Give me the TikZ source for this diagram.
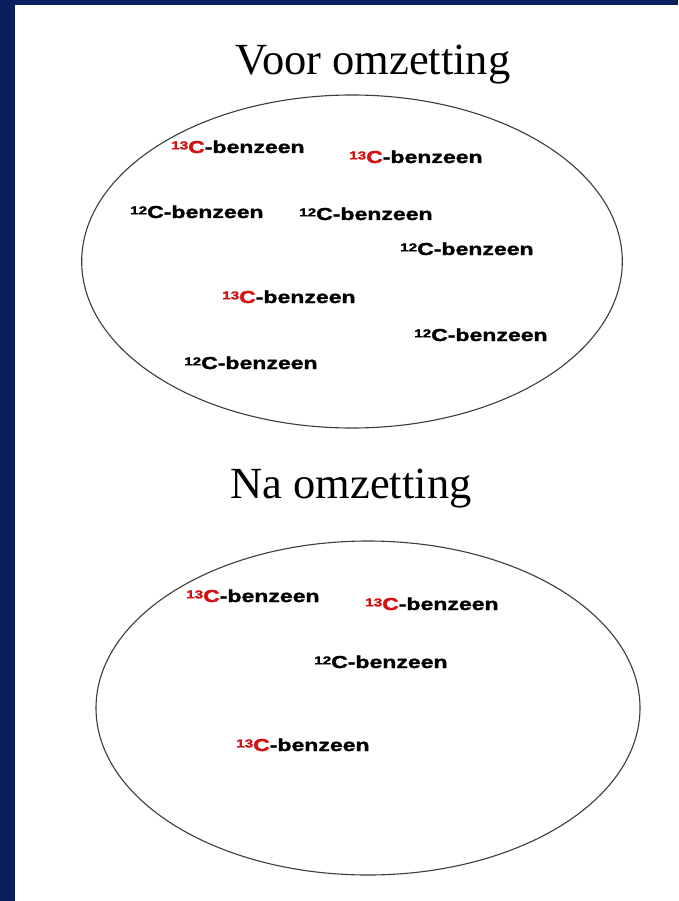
\documentclass[tikz,border=0pt]{standalone}
\usepackage{fontspec}
\setmainfont{Liberation Serif}
\newfontfamily\labfont[UprightFont={* Bold}, FakeStretch=1.33, FakeBold=1.6]{Liberation Sans}
\definecolor{navy}{RGB}{10,31,94}
\definecolor{isored}{RGB}{212,18,18}
\definecolor{rim}{RGB}{60,60,60}
\newcommand{\thirteen}{{\color{isored}\raisebox{3.6pt}{\fontsize{11.5}{11.5}\selectfont 13}C}-benzeen}
\newcommand{\twelve}{\raisebox{3.6pt}{\fontsize{11.5}{11.5}\selectfont 12}C-benzeen}
\begin{document}
\begin{tikzpicture}[x=1pt,y=1pt,
  title/.style={font=\fontsize{44.5}{46}\selectfont, anchor=base, inner sep=0pt},
  mol/.style={font=\labfont\fontsize{17.3}{18}\selectfont, anchor=base west, inner sep=0pt},
  rimline/.style={draw=rim, line width=1.1pt}]
\useasboundingbox (0,0) rectangle (678,-901);
\fill[white] (0,0) rectangle (678,-901);
\fill[navy] (0,0) rectangle (15,-901);
\fill[navy] (0,0) rectangle (678,-5);
% titles
\node[title] (t1) at (373,-75) {Voor omzetting};
\node[title] (t2) at (351,-498) {Na omzetting};
% ellipses
\draw[rimline] (352,-261.5) ellipse [x radius=270.3, y radius=166.5];
\draw[rimline] (368,-708) ellipse [x radius=272, y radius=167];
% before
\node[mol] (a1) at (171,-153) {\thirteen};
\node[mol] (a2) at (349,-163) {\thirteen};
\node[mol] (a3) at (130,-218) {\twelve};
\node[mol] (a4) at (299,-220) {\twelve};
\node[mol] (a5) at (400,-255) {\twelve};
\node[mol] (a6) at (222,-303) {\thirteen};
\node[mol] (a7) at (414,-341) {\twelve};
\node[mol] (a8) at (184,-369) {\twelve};
% after
\node[mol] (b1) at (186,-602) {\thirteen};
\node[mol] (b2) at (365,-610) {\thirteen};
\node[mol] (b3) at (314,-668) {\twelve};
\node[mol] (b4) at (236,-751) {\thirteen};
\end{tikzpicture}
\end{document}
